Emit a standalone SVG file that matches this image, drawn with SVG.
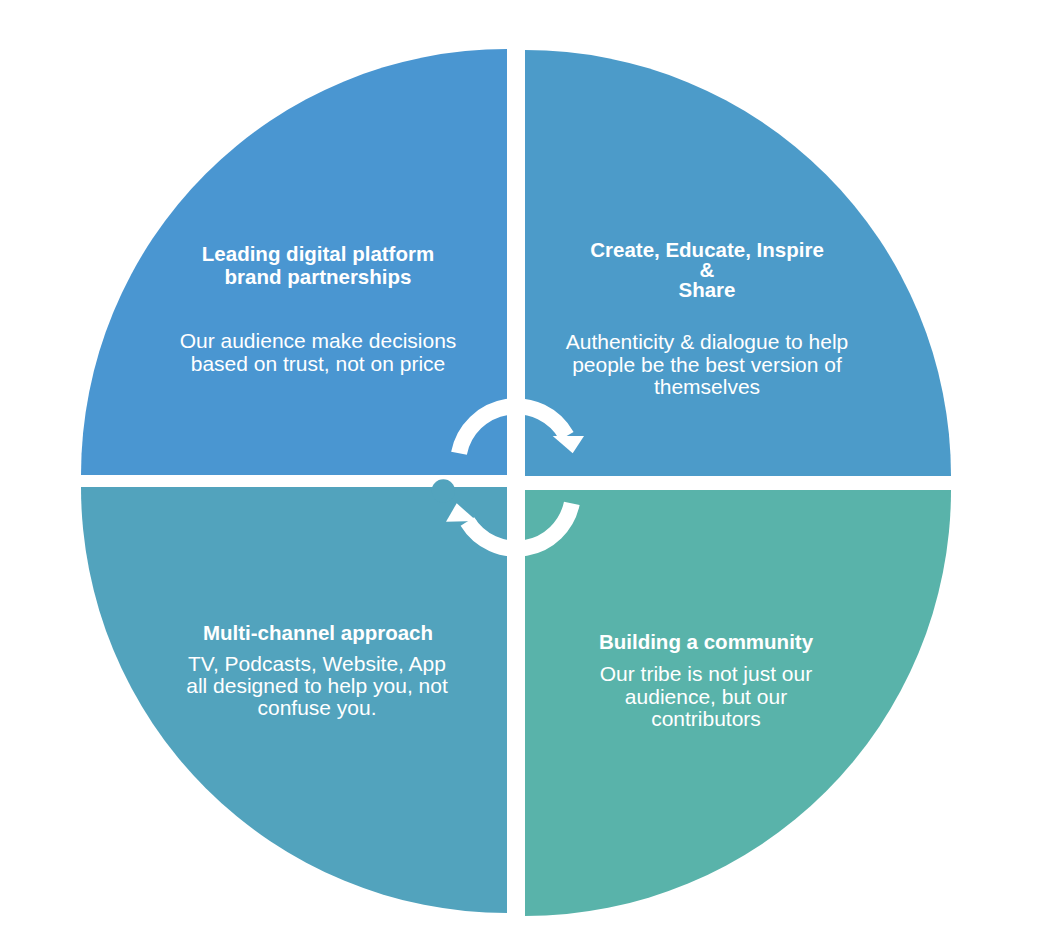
<svg xmlns="http://www.w3.org/2000/svg" width="1038" height="942" viewBox="0 0 1038 942">
<style>
text{font-family:"Liberation Sans",Arial,Helvetica,sans-serif;fill:#fff;text-anchor:middle;font-size:21px}
.t{font-weight:bold;font-size:20.5px}
.arc{fill:none;stroke:#fff;stroke-width:16;stroke-linecap:butt}
</style>
<rect width="1038" height="942" fill="#fff"/>
<g id="q-tl">
<path d="M507,475 L81,475 A426,426 0 0 1 507,49 Z" fill="#4A96D1"/>
<text class="t" x="318" y="261">Leading digital platform</text>
<text class="t" x="318" y="284">brand partnerships</text>
<text x="318" y="348">Our audience make decisions</text>
<text x="318" y="371">based on trust, not on price</text>
</g>
<g id="q-tr">
<path d="M525,476 L525,50 A426,426 0 0 1 951,476 Z" fill="#4C9BC9"/>
<text class="t" x="707" y="257">Create, Educate, Inspire</text>
<text class="t" x="707" y="276.5">&amp;</text>
<text class="t" x="707" y="296.5">Share</text>
<text x="707" y="349">Authenticity &amp; dialogue to help</text>
<text x="707" y="371.5">people be the best version of</text>
<text x="707" y="393.5">themselves</text>
</g>
<g id="q-bl">
<path d="M507,487 L507,913 A426,426 0 0 1 81,487 Z" fill="#52A3BD"/>
<circle cx="443.3" cy="491" r="11.7" fill="#52A3BD"/>
<text class="t" x="318" y="640">Multi-channel approach</text>
<text x="317" y="671">TV, Podcasts, Website, App</text>
<text x="317" y="693">all designed to help you, not</text>
<text x="317" y="715">confuse you.</text>
</g>
<g id="q-br">
<path d="M525,490 L951,490 A426,426 0 0 1 525,916 Z" fill="#59B3AA"/>
<text class="t" x="706" y="648.5">Building a community</text>
<text x="706" y="681">Our tribe is not just our</text>
<text x="706" y="703.5">audience, but our</text>
<text x="706" y="725.5">contributors</text>
</g>
<g id="connectors">
<path class="arc" d="M459,453.3 A58,58 0 0 1 566.6,436"/>
<polygon points="552.7,436 584,436 572.7,453.3" fill="#fff"/>
<path class="arc" d="M571.8,503.3 A57,57 0 0 1 467.4,521.5"/>
<polygon points="456.7,503.3 446,521.7 476.7,521" fill="#fff"/>
</g>
</svg>
